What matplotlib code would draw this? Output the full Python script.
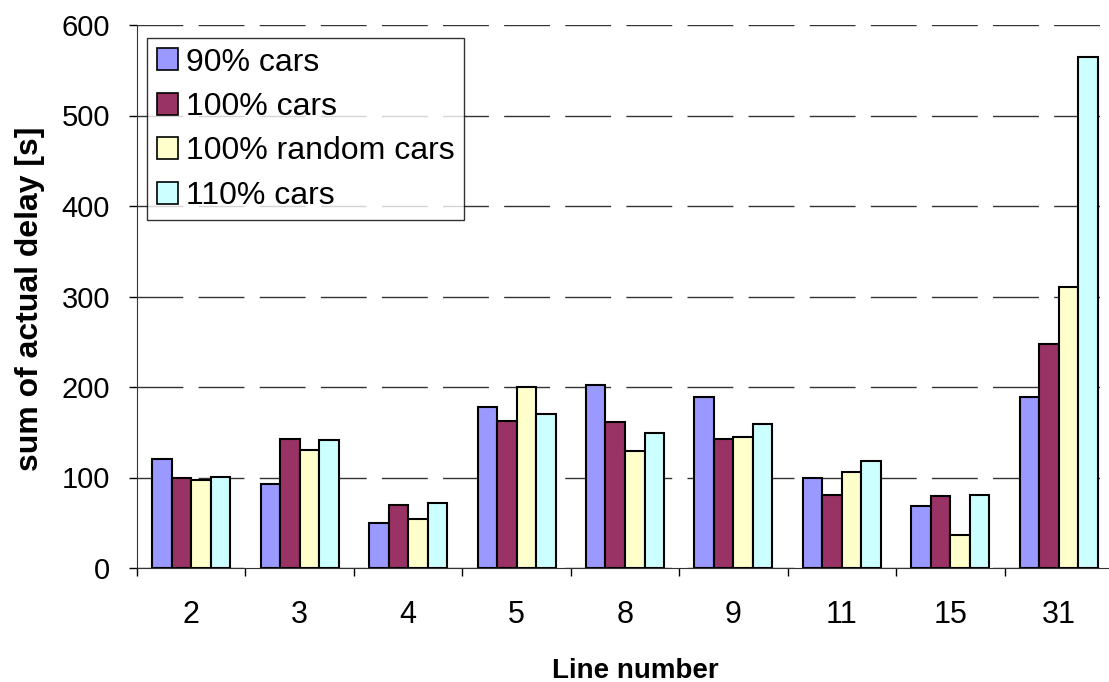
import numpy as np
import matplotlib.pyplot as plt
from matplotlib.patches import Patch

plt.rcParams['font.family'] = ['Liberation Sans', 'DejaVu Sans']

lines = ['2', '3', '4', '5', '8', '9', '11', '15', '31']
series_names = ['90% cars', '100% cars', '100% random cars', '110% cars']
cars_90 = [120, 93, 50, 178, 202, 189, 99, 69, 189]
cars_100 = [99, 143, 70, 162, 161, 143, 81, 80, 248]
cars_100_random = [97, 130, 54, 200, 129, 145, 106, 37, 310]
cars_110 = [101, 141, 72, 170, 149, 159, 118, 81, 565]
colors = ['#9999FF', '#993366', '#FFFFCC', '#CCFFFF']

fig = plt.figure(figsize=(11.09, 6.82), dpi=100)
ax = fig.add_axes([137 / 1109, 1 - 568 / 682, 976 / 1109, 543 / 682])

x = np.arange(len(lines))
width = 0.18
all_series = [cars_90, cars_100, cars_100_random, cars_110]
for i, (vals, c) in enumerate(zip(all_series, colors)):
    ax.bar(x + (i - 1.5) * width, vals, width, color=c, edgecolor='black',
           linewidth=1.5, zorder=3)

ax.set_xlim(-0.5, len(lines) - 0.5)
ax.set_ylim(0, 600)
ax.set_yticks(range(0, 601, 100))
ax.tick_params(axis='y', labelsize=21, length=5.5, width=1, pad=14)

# category labels at centres, tick marks between groups
ax.set_xticks(x)
ax.set_xticklabels(lines)
ax.set_xticks(np.arange(-0.5, len(lines), 1), minor=True)
ax.tick_params(axis='x', which='major', length=0, labelsize=22, pad=23)
ax.tick_params(axis='x', which='minor', length=5.5, width=1)

ax.yaxis.grid(True, color='#333333', linewidth=1.0, dashes=(33, 11), zorder=0)
ax.set_axisbelow(True)
for side in ['top', 'right']:
    ax.spines[side].set_visible(False)
ax.spines['left'].set_color('#333333')
ax.spines['bottom'].set_color('#333333')

ax.set_ylabel('sum of actual delay [s]', fontsize=23, fontweight='bold', va='center')
ax.yaxis.set_label_coords(-0.1096, 0.495)
ax.set_xlabel('Line number', fontsize=20, fontweight='bold', va='center')
ax.xaxis.set_label_coords(0.511, -0.19)

handles = [Patch(facecolor=c, edgecolor='black', linewidth=1.2, label=n)
           for c, n in zip(colors, series_names)]
leg = ax.legend(handles=handles, loc='upper left', bbox_to_anchor=(0.0102, 0.976),
                fontsize=23, frameon=True, fancybox=False, edgecolor='black',
                handlelength=0.66, handleheight=0.68, handletextpad=0.25,
                labelspacing=0.45, borderpad=0.3, borderaxespad=0)
leg.get_frame().set_linewidth(1.0)

fig.savefig('out.png', dpi=100)
